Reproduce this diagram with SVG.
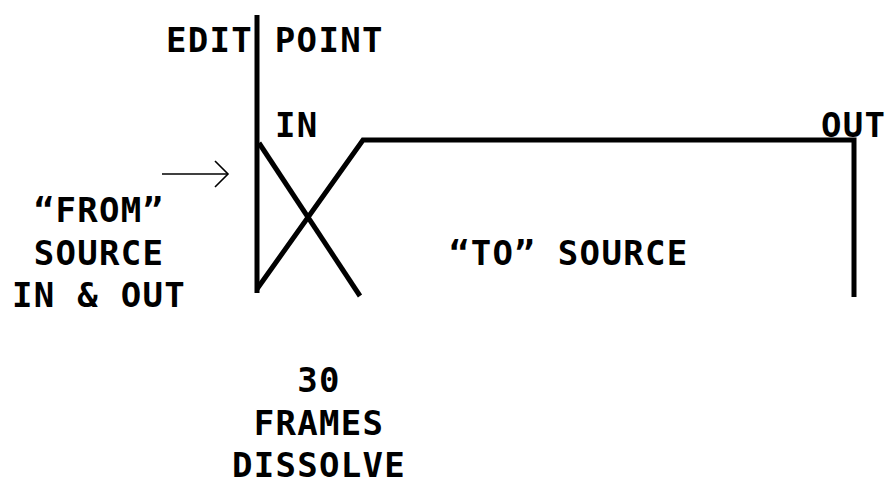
<svg xmlns="http://www.w3.org/2000/svg" width="885" height="480" viewBox="0 0 885 480">
<style>
text{font-family:"DejaVu Sans Mono","Liberation Mono",monospace;font-weight:bold;font-size:34px;letter-spacing:1.3px;fill:#000}
.c{text-anchor:middle}
.ln{stroke:#000;stroke-width:5;fill:none;stroke-linejoin:miter}
.ar{stroke:#000;stroke-width:1.6;fill:none}
</style>
<rect width="885" height="480" fill="#fff"/>
<g id="connectors">
<line class="ln" x1="257" y1="15" x2="257" y2="293"/>
<line class="ln" x1="259" y1="143" x2="360" y2="296"/>
<polyline class="ln" points="257,289 363,140 854,140 854,297"/>
<line class="ar" x1="162" y1="174" x2="228" y2="174"/>
<polyline class="ar" points="215,161 228,174 215,187"/>
</g>
<g id="edit-point"><text x="166" y="52">EDIT POINT</text></g>
<g id="in-label"><text x="275" y="137">IN</text></g>
<g id="out-label"><text x="821" y="137">OUT</text></g>
<g id="from-source">
<text class="c" x="99" y="222">“FROM”</text>
<text class="c" x="99" y="265">SOURCE</text>
<text class="c" x="99" y="307">IN &amp; OUT</text>
</g>
<g id="to-source"><text x="449" y="265">“TO” SOURCE</text></g>
<g id="dissolve">
<text class="c" x="319" y="392">30</text>
<text class="c" x="319" y="435">FRAMES</text>
<text class="c" x="319" y="477">DISSOLVE</text>
</g>
</svg>
